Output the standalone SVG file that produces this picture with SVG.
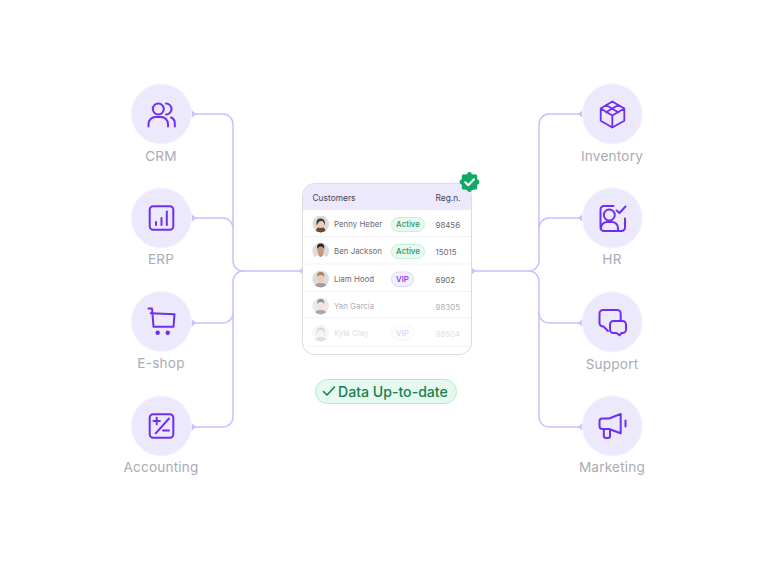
<svg xmlns="http://www.w3.org/2000/svg" width="768" height="562" viewBox="0 0 768 562">
<style>
text{font-family:"Inter","Liberation Sans",sans-serif}
.c{fill:#ece9fd;stroke:#f5f3ff;stroke-width:1.200;stroke-dasharray:2 1}
.i{fill:none;stroke:#6f2ff0;stroke-width:2;stroke-linecap:round;stroke-linejoin:round}
.d{fill:#6f2ff0}
.l{font-size:13.600px;fill:#ababb5;text-anchor:middle;letter-spacing:.2px}
.w{fill:none;stroke:#cbbffc;stroke-width:1.500}
.a{fill:#cbbffc}
.n{font-size:7.900px;fill:#6a6a74}
.h{font-size:8.400px;fill:#45454f}
.g{fill:#e9faf0;stroke:#c4f0d8}
.gt{font-size:7.900px;font-weight:500;fill:#2e9565;text-anchor:middle}
.v{fill:#f3f0fe;stroke:#ddd5fb}
.vt{font-size:7.900px;font-weight:500;fill:#6f2ff0;text-anchor:middle}
.sep{stroke:#f2f2f5;stroke-width:1}
.bg{fill:#dcdcdf}
.skin{fill:#eccdb6}
.hair{fill:#4a3a33}
</style>
<defs>
<clipPath id="av"><circle cx="0" cy="0" r="8.500"/></clipPath>
</defs>
<rect width="768" height="562" fill="#fff"/>
<g id="connectors">
<path class="w" d="M193 114H223a10 10 0 0 1 10 10V261a10 10 0 0 0 10 10H302"/>
<path class="w" d="M193 218H223a10 10 0 0 1 10 10"/>
<path class="w" d="M193 323H223a10 10 0 0 0 10-10"/>
<path class="w" d="M193 427H223a10 10 0 0 0 10-10V281a10 10 0 0 1 10-10"/>
<path class="w" d="M581 114H549a10 10 0 0 0-10 10V261a10 10 0 0 1-10 10H472"/>
<path class="w" d="M581 218H549a10 10 0 0 0-10 10"/>
<path class="w" d="M581 323H549a10 10 0 0 1-10-10"/>
<path class="w" d="M581 427H549a10 10 0 0 1-10-10V281a10 10 0 0 0-10-10"/>
<path class="a" d="M191.500 110L196 114L191.500 118ZM191.500 214L196 218L191.500 222ZM191.500 319L196 323L191.500 327ZM191.500 423L196 427L191.500 431Z"/>
<path class="a" d="M582.500 110L578 114L582.500 118ZM582.500 214L578 218L582.500 222ZM582.500 319L578 323L582.500 327ZM582.500 423L578 427L582.500 431Z"/>
<path class="a" d="M303 267L299 271L303 275ZM471 267L476 271L471 275Z"/>
</g>
<g id="crm"><circle class="c" cx="161.300" cy="114" r="30"/>
<circle class="i" cx="158.300" cy="109" r="5.500"/>
<path class="i" d="M148.500 126.500V124a7 7 0 0 1 7-7h5.500a7 7 0 0 1 7 7v2.500M166 103.500a5.500 5.500 0 0 1 0 11M171 117.500a6 6 0 0 1 3.800 5.500v3.500"/>
<text class="l" x="161" y="161">CRM</text></g>
<g id="erp"><circle class="c" cx="161.300" cy="218" r="30"/>
<rect class="i" x="149.700" y="206.200" width="23.600" height="23.600" rx="3.500"/>
<path class="i" d="M156 225v-3M161.500 225v-7M166.800 225v-13.500"/>
<text class="l" x="161" y="264">ERP</text></g>
<g id="eshop"><circle class="c" cx="161.300" cy="321.500" r="30"/>
<path class="i" d="M148.500 308.500h3.500l1.500 18.200h20l1-12.400-23.800-1"/>
<circle class="d" cx="157.700" cy="332.700" r="2.200"/><circle class="d" cx="167.700" cy="332.700" r="2.200"/>
<text class="l" x="161" y="368">E-shop</text></g>
<g id="accounting"><circle class="c" cx="161.300" cy="426" r="30"/>
<rect class="i" x="149.700" y="414.200" width="23.600" height="23.600" rx="3.500"/>
<path class="i" d="M155.700 433.300L169 418.500M153.500 421h6.400M156.700 417.800v6.400M163 430.500h6"/>
<text class="l" x="161" y="472">Accounting</text></g>
<g id="inventory"><circle class="c" cx="612.300" cy="114" r="30"/>
<path class="i" d="M612.300 101.500L624.300 108.500V120.800L612.300 127.500L600.700 120.800V108.500ZM600.700 108.500L612.300 115.500L624.300 108.500M612.300 115.500V127.500M606 105L618.300 112.300M618.300 105L606 112.300" style="stroke-width:1.800"/>
<text class="l" x="612" y="161">Inventory</text></g>
<g id="hr"><circle class="c" cx="612.300" cy="218" r="30"/>
<path class="i" d="M613.500 206H604a3.500 3.500 0 0 0-3.500 3.500V227.500a3.500 3.500 0 0 0 3.500 3.500H621.500a3.500 3.500 0 0 0 3.500-3.500V218.500M601 229v-1a6 6 0 0 1 6-6h5a6 6 0 0 1 6 6v2.500M616.500 210.500L619.500 213L625.500 206.500"/>
<circle class="i" cx="609.300" cy="215" r="5.500"/>
<text class="l" x="612" y="264">HR</text></g>
<g id="support"><circle class="c" cx="612.300" cy="322" r="30"/>
<path class="i" d="M620.700 320.500V313.500a3.500 3.500 0 0 0-3.500-3.500H603a3.500 3.500 0 0 0-3.500 3.500V323a3.500 3.500 0 0 0 3.500 3.500h.5l4.500 4.500"/>
<path class="i" d="M613.500 321h9a3.500 3.500 0 0 1 3.500 3.500v5a3.500 3.500 0 0 1-3.500 3.500h-1l-2 2.300-3-2.300h-3a3.500 3.500 0 0 1-3.500-3.500v-5a3.500 3.500 0 0 1 3.500-3.500Z"/>
<text class="l" x="612" y="369">Support</text></g>
<g id="marketing"><circle class="c" cx="612.300" cy="426" r="30"/>
<path class="i" d="M620.700 414L609 418.500H602a2.500 2.500 0 0 0-2.500 2.500V426a3 3 0 0 0 3 3H609L620.700 433.300ZM603.800 429V435.500a2.500 2.500 0 0 0 2.500 2.500H608a2 2 0 0 0 2-2V429.500M625.500 420.500V426.500"/>
<text class="l" x="612" y="472">Marketing</text></g>
<g id="customers-card">
<rect x="302.500" y="183.500" width="169" height="171" rx="12" fill="#fff" stroke="#dcdce0"/>
<path d="M303 210V195.500a11.500 11.500 0 0 1 11.500-11.500H459.500a11.500 11.500 0 0 1 11.500 11.500V210Z" fill="#ece9fd"/>
<text class="h" x="312.500" y="201">Customers</text>
<text class="h" x="435.500" y="201">Reg.n.</text>
<path class="sep" d="M306 236.500H471M306 264H471M306 291.500H471M306 318H471M306 346H471"/>
<g id="row-penny">
<g transform="translate(320.700 224)" clip-path="url(#av)"><circle class="bg" r="8.500"/><path d="M-5 9c0-5 2-6 5-6s5 1 5 6Z" fill="#6b4a35"/><ellipse class="skin" cy="-.5" rx="3.500" ry="4.500"/><path class="hair" d="M-4 2c-1-6 1-7.500 4-7.500s5 2 4 7.500c-.5-3-1-5-3.500-5s-3.500 2-4.500 5Z"/></g>
<text class="n" x="334" y="227">Penny Heber</text>
<rect class="g" x="391.500" y="217.500" width="33" height="14" rx="7"/><text class="gt" x="408" y="227.300">Active</text>
<text class="n" x="435.500" y="227.500">98456</text></g>
<g id="row-ben">
<g transform="translate(320.700 251)" clip-path="url(#av)"><circle class="bg" r="8.500"/><path d="M-6 9c0-4 2-5 6-5s6 1 6 5Z" fill="#fff"/><path d="M-2 2h4v3l-2 1-2-1Z" fill="#b98a6a"/><ellipse cy="-.5" rx="3.300" ry="4.300" fill="#c89a7c"/><path d="M-3.500 -2c-.5-4 1-5.500 3.500-5.500s4 1.500 3.500 5.500c-1-2-2.500-2.500-3.500-2.500s-2.500.5-3.500 2.500Z" fill="#2b211d"/></g>
<text class="n" x="334" y="254">Ben Jackson</text>
<rect class="g" x="391.500" y="244.500" width="33" height="14" rx="7"/><text class="gt" x="408" y="254.300">Active</text>
<text class="n" x="435.500" y="254.500">15015</text></g>
<g id="row-liam">
<g transform="translate(320.700 279)" clip-path="url(#av)"><circle class="bg" r="8.500"/><path d="M-6 9c0-4 2-5 6-5s6 1 6 5Z" fill="#9d9da3"/><ellipse class="skin" cy="-.5" rx="3.500" ry="4.500"/><path d="M-3.500 -2c-.5-3.500 1-5 3.500-5s4 1.500 3.500 5c-1-1.800-2.500-2-3.500-2s-2.500.2-3.500 2Z" fill="#a9825f"/></g>
<text class="n" x="334" y="282">Liam Hood</text>
<rect class="v" x="391.500" y="272" width="22" height="14.500" rx="7.250"/><text class="vt" x="402.500" y="282.200">VIP</text>
<text class="n" x="435.500" y="282.500">6902</text></g>
<g id="row-yan" opacity=".55">
<g transform="translate(320.700 306)" clip-path="url(#av)"><circle class="bg" r="8.500"/><path d="M-6 9c0-4 2-5 6-5s6 1 6 5Z" fill="#666"/><ellipse class="skin" cy="-.5" rx="3.500" ry="4.500"/><path d="M-3.500 -2c-.5-3.500 1-5 3.500-5s4 1.500 3.500 5c-1-1.800-2.500-2-3.500-2s-2.500.2-3.500 2Z" fill="#3d3d3d"/></g>
<text class="n" x="334" y="309">Yan Garcia</text>
<text class="n" x="435.500" y="309.500">98305</text></g>
<g id="row-kyla" opacity=".22">
<g transform="translate(320.700 333)" clip-path="url(#av)"><circle class="bg" r="8.500"/><path d="M-6 9c0-4 2-5 6-5s6 1 6 5Z" fill="#777"/><ellipse class="skin" cy="-.5" rx="3.500" ry="4.500"/><path d="M-4 3c-1-7 1-8.500 4-8.500s5 1.500 4 8.500c-.5-4-1-6-4-6s-3.500 2-4 6Z" fill="#555"/></g>
<text class="n" x="334" y="336">Kyla Clay</text>
<rect class="v" x="391.500" y="326" width="22" height="14.500" rx="7.250"/><text class="vt" x="402.500" y="336.200">VIP</text>
<text class="n" x="435.500" y="336.500">98504</text></g>
</g>
<g id="verified-badge">
<g fill="#12a866"><circle cx="469.500" cy="182" r="8.600"/><circle cx="469.500" cy="174.300" r="2.300"/><circle cx="469.500" cy="189.700" r="2.300"/><circle cx="461.800" cy="182" r="2.300"/><circle cx="477.200" cy="182" r="2.300"/><circle cx="464" cy="176.500" r="2.300"/><circle cx="475" cy="176.500" r="2.300"/><circle cx="464" cy="187.500" r="2.300"/><circle cx="475" cy="187.500" r="2.300"/></g>
<path d="M465.300 182.300l3 3 5.700-6" fill="none" stroke="#fff" stroke-width="2" stroke-linecap="round" stroke-linejoin="round"/>
</g>
<g id="status-pill">
<rect x="315.500" y="379.500" width="141" height="24" rx="12" fill="#e6f9ef" stroke="#b5ecd0"/>
<path d="M323.500 391.500l3.500 3.500 7.500-8" fill="none" stroke="#15804f" stroke-width="1.600" stroke-linecap="round" stroke-linejoin="round"/>
<text x="338" y="397" font-size="14.100" fill="#15804f" font-weight="500">Data Up-to-date</text>
</g>
</svg>
